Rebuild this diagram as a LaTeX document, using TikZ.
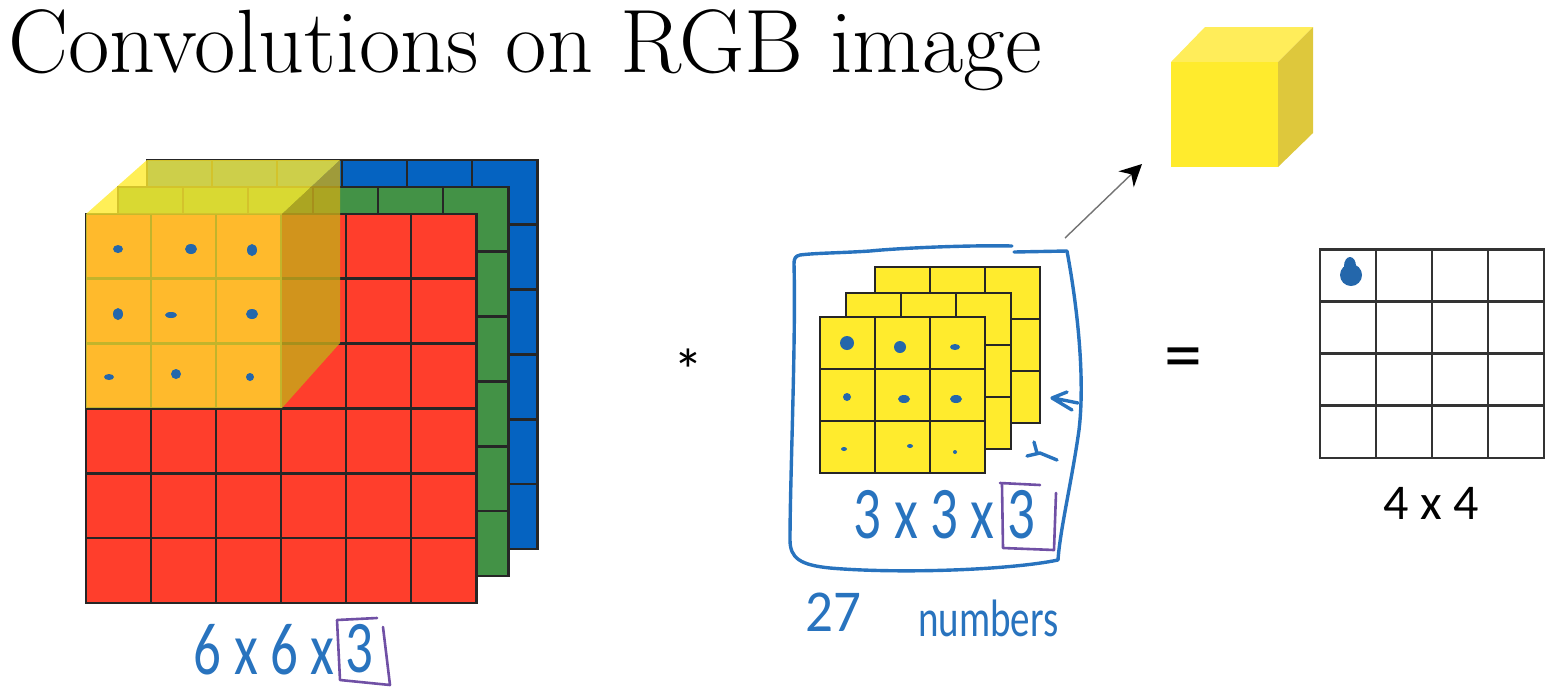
\documentclass[tikz,border=0pt]{standalone}
\usepackage{fontspec}
\usepackage{tikz}
\usetikzlibrary{arrows.meta}
\newfontfamily\slidefont{Carlito}
\definecolor{layerred}{RGB}{255,62,44}
\definecolor{layergreen}{RGB}{67,146,70}
\definecolor{layerblue}{RGB}{5,99,193}
\definecolor{filteryellow}{RGB}{255,235,45}
\definecolor{cubetop}{RGB}{255,237,90}
\definecolor{cubeside}{RGB}{222,200,60}
\definecolor{sheerside}{RGB}{198,170,25}
\definecolor{inkblue}{RGB}{40,115,190}
\definecolor{inkpurple}{RGB}{112,80,165}

\begin{document}
\begin{tikzpicture}[
                x=0.5pt, y=-0.5pt,
                gridline/.style={draw=black!85, line width=1.4pt, line join=miter},
                ink/.style={draw=inkblue, line width=1.7pt, line cap=round, line join=round},
                box/.style={draw=inkpurple, line width=1.3pt, line cap=round, line join=round},
                dot/.style={fill=inkblue!90!black},
                handtext/.style={text=inkblue, inner sep=0pt, yscale=1.35, font=\slidefont\fontsize{27.5}{30}\selectfont},
                slidetext/.style={text=black, inner sep=0pt, font=\slidefont\fontsize{25}{25}\selectfont},
                >=Stealth
            ]
            \useasboundingbox (0,0) rectangle (1564,692);

            \node[anchor=base west, inner sep=0pt, font=\fontsize{45}{50}\selectfont] (title) at (8,72) {Convolutions on RGB image};

            % input image
            \foreach \x/\y/\c in {147/160/layerblue, 118/187/layergreen, 86/214/layerred} {
                \draw[gridline, fill=\c] (\x,\y) rectangle ++(390.5,389);
                \foreach \k in {1,...,5} {
                    \draw[gridline] (\x+\k*65,\y) -- ++(0,389);
                    \draw[gridline] (\x,\y+\k*64.8) -- ++(390.5,0);
                }
            }

            % see-through cube
            \fill[filteryellow, opacity=0.8] (86,214) -- (147,160) -- (340,160) -- (282,214) -- cycle;
            \fill[sheerside, opacity=0.8] (282,214) -- (340,160) -- (340,343) -- (282,408) -- cycle;
            \fill[filteryellow, opacity=0.72] (86,214) rectangle (282,408);

            \foreach \x/\y/\a/\b in {118/249/5/4, 191/249/6/5, 252/250/5/6, 118/314/5/6, 171/315/6/3, 252/314/6/5, 109/377/5/3, 176/374/5/5, 250/377/4/4} {
                \fill[dot] (\x,\y) ellipse [x radius=\a, y radius=\b];
            }

            \node[handtext, anchor=east] (inputsize) at (335,650) {6 x 6 x};
            \node[handtext] (inputdepth) at (359,649) {3};
            \draw[box] (inputdepth) ++(-22,-29) -- ++(40,-2) (inputdepth) ++(-22,-29) -- ++(3,60) -- ++(50,5) -- ++(-7,-58);

            \node[slidetext, font=\slidefont\fontsize{30}{30}\selectfont] (star) at (688,370) {*};

            % filter
            \foreach \x/\y in {875/267, 846/293, 820/317} {
                \draw[gridline, fill=filteryellow] (\x,\y) rectangle ++(165,156);
                \foreach \k in {1,2} {
                    \draw[gridline] (\x+\k*55,\y) -- ++(0,156);
                    \draw[gridline] (\x,\y+\k*52) -- ++(165,0);
                }
            }

            \foreach \x/\y/\a/\b in {847/343/7/7, 900/347/6/6, 955/347/5/3, 847/397/4/4, 904/399/6/4, 956/399/6/4, 844/449/3/2, 910/446/3/2, 955/452/2/2} {
                \fill[dot] (\x,\y) ellipse [x radius=\a, y radius=\b];
            }

            \draw[ink] (1012,246) .. controls (970,245) and (900,248) .. (870,251)
                .. controls (840,253) and (815,253) .. (800,255)
                .. controls (795,256) and (794,259) .. (794,264)
                .. controls (796,340) and (790,480) .. (790,540)
                .. controls (790,558) and (800,565) .. (830,568)
                .. controls (900,574) and (1010,570) .. (1058,560)
                .. controls (1060,530) and (1072,480) .. (1079,430)
                .. controls (1085,380) and (1078,310) .. (1067,251)
                -- (1014,252);

            % little marks next to the filter
            \draw[ink] (1067,392) -- (1052,398) -- (1072,410) (1053,398) -- (1078,403);
            \draw[ink] (1027,456) -- (1040,453) -- (1057,460) (1034,442) -- (1037,453);

            \node[handtext, anchor=east] (filtersize) at (995,515) {3 x 3 x};
            \node[handtext] (filterdepth) at (1021,515) {3};
            \draw[box] (filterdepth) ++(-21,-32) -- ++(40,2) (filterdepth) ++(-19,-30) -- ++(1,63) -- ++(51,2) -- ++(2,-57);

            \node[handtext, yscale=0.8, anchor=west] (count) at (805,612) {27};
            \node[handtext, anchor=west, font=\slidefont\fontsize{19.5}{20}\selectfont] (countword) at (918,618) {numbers};

            % result cube
            \fill[cubetop] (1171,62) -- (1205,27) -- (1313,27) -- (1278,62) -- cycle;
            \fill[cubeside] (1278,62) -- (1313,27) -- (1313,133) -- (1278,167) -- cycle;
            \fill[filteryellow] (1171,62) rectangle (1278,167);

            \coordinate (ArrowTail) at (1065,238);
            \coordinate (ArrowHead) at (1142,164);
            \draw[->, draw=black!55, line width=0.7pt, -{Stealth[black, length=11pt, width=11pt]}] (ArrowTail) -- (ArrowHead);

            \node[slidetext, font=\slidefont\fontsize{38}{38}\selectfont] (equals) at (1183,364) {=};

            % output
            \draw[gridline, draw=black!80] (1320,249.5) rectangle (1544,458);
            \foreach \k in {1,2,3} {
                \draw[gridline, draw=black!80] (1320+\k*56,249.5) -- ++(0,208.5);
                \draw[gridline, draw=black!80] (1320,249.5+\k*52.1) -- ++(224,0);
            }
            \fill[dot] (1351,275) ellipse [x radius=11, y radius=11];
            \fill[dot] (1350,266) ellipse [x radius=6, y radius=9];

            \node[slidetext] (outputsize) at (1431,503) {4 x 4};

        \end{tikzpicture}
\end{document}
